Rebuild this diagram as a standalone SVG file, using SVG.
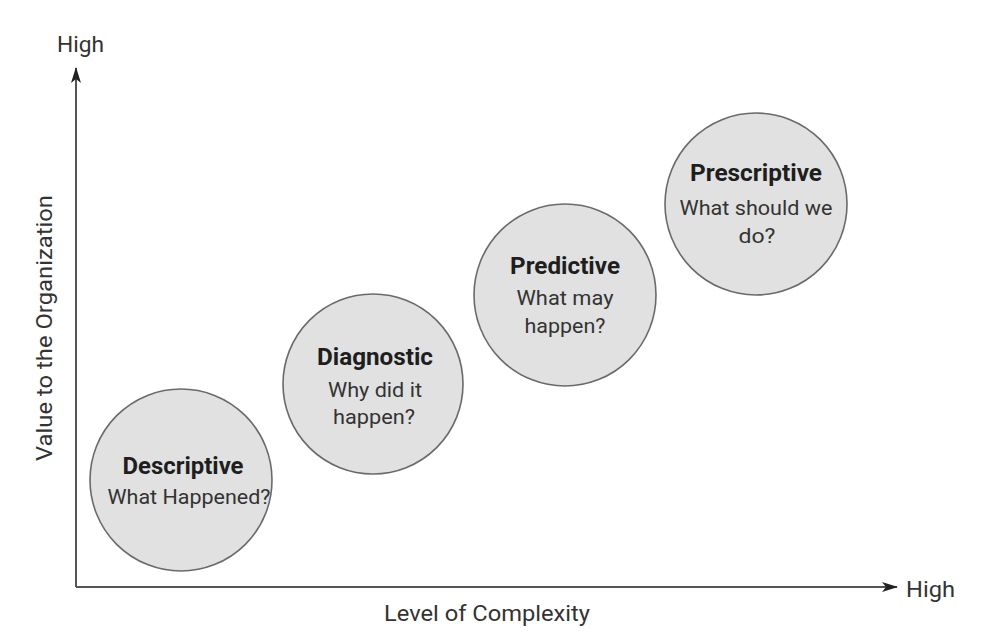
<svg xmlns="http://www.w3.org/2000/svg" width="999" height="640" viewBox="0 0 999 640">
<style>
.c{fill:#e1e1e1;stroke:#6a6a6a;stroke-width:1.6}
.t{font-family:Roboto,"Liberation Sans",sans-serif;text-anchor:middle}
.b{font-size:24px;font-weight:bold;fill:#1e1e1e}
.r{font-size:21px;font-weight:normal;fill:#333}
.ax{font-family:Roboto,"Liberation Sans",sans-serif;font-size:22px;font-weight:normal;fill:#333}
.axis{stroke:#555;stroke-width:2;fill:none}
</style>
<defs>
<marker id="ah" markerWidth="16" markerHeight="10" refX="15" refY="5" orient="auto" markerUnits="userSpaceOnUse">
<path d="M0,0 L16,5 L0,10 L4,5 Z" fill="#222"/>
</marker>
</defs>
<rect width="999" height="640" fill="#fff"/>
<g id="connectors">
<path class="axis" d="M76,587 L76,68" marker-end="url(#ah)"/>
<path class="axis" d="M76,587 L897,587" marker-end="url(#ah)"/>
</g>
<g id="labels">
<text class="ax" x="57" y="52" textLength="47" lengthAdjust="spacingAndGlyphs">High</text>
<text class="ax" x="906" y="597" textLength="49" lengthAdjust="spacingAndGlyphs">High</text>
<text class="ax" x="487" y="621" text-anchor="middle" textLength="206" lengthAdjust="spacingAndGlyphs">Level of Complexity</text>
<text class="ax" transform="translate(52,328) rotate(-90)" text-anchor="middle" textLength="266" lengthAdjust="spacingAndGlyphs">Value to the Organization</text>
</g>
<g id="descriptive">
<circle class="c" cx="181" cy="480" r="91"/>
<text class="t b" x="183" y="474" textLength="121" lengthAdjust="spacingAndGlyphs">Descriptive</text>
<text class="t r" x="189" y="504" textLength="163" lengthAdjust="spacingAndGlyphs">What Happened?</text>
</g>
<g id="diagnostic">
<circle class="c" cx="373" cy="384" r="90"/>
<text class="t b" x="375" y="365" textLength="116" lengthAdjust="spacingAndGlyphs">Diagnostic</text>
<text class="t r" x="375" y="397" textLength="94" lengthAdjust="spacingAndGlyphs">Why did it</text>
<text class="t r" x="374" y="424" textLength="82" lengthAdjust="spacingAndGlyphs">happen?</text>
</g>
<g id="predictive">
<circle class="c" cx="565" cy="295" r="91"/>
<text class="t b" x="565" y="274" textLength="110" lengthAdjust="spacingAndGlyphs">Predictive</text>
<text class="t r" x="565" y="305" textLength="97" lengthAdjust="spacingAndGlyphs">What may</text>
<text class="t r" x="565" y="333" textLength="81" lengthAdjust="spacingAndGlyphs">happen?</text>
</g>
<g id="prescriptive">
<circle class="c" cx="756" cy="204" r="91"/>
<text class="t b" x="756" y="181" textLength="132" lengthAdjust="spacingAndGlyphs">Prescriptive</text>
<text class="t r" x="756" y="215" textLength="153" lengthAdjust="spacingAndGlyphs">What should we</text>
<text class="t r" x="757" y="243" textLength="37" lengthAdjust="spacingAndGlyphs">do?</text>
</g>
</svg>
